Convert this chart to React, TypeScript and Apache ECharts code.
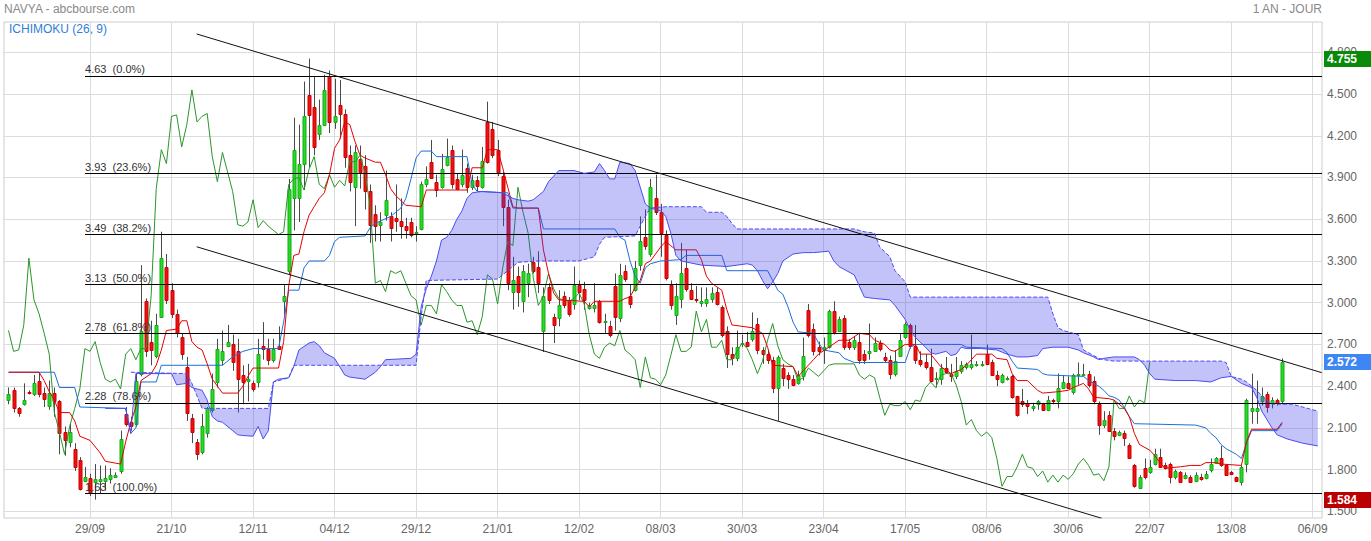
import React, { useEffect, useRef } from "react";
import * as echarts from "echarts";

// ---------------- data ----------------
// trading-day index 0..250 ; labels every 16 trading days
const dateLabels = ["29/09", "21/10", "12/11", "04/12", "29/12", "21/01", "12/02", "08/03", "30/03", "23/04", "17/05", "08/06", "30/06", "22/07", "13/08", "06/09"];
const labelStep = 16;

const openP = [
  2.30, 2.37, 2.24, 2.27, 2.36, 2.34, 2.44, 2.35, 2.26, 2.35,
  2.29, 2.07, 2.00, 1.95, 1.87, 1.72, 1.74, 1.71, 1.72, 1.72,
  1.73, 1.75, 1.79, 2.20, 2.14, 2.13, 2.49, 3.01, 2.72, 2.62,
  2.90, 3.26, 3.09, 2.92, 2.75, 2.54, 2.17, 2.00, 1.93, 2.06,
  2.23, 2.43, 2.59, 2.69, 2.70, 2.65, 2.48, 2.44, 2.42, 2.43,
  2.69, 2.67, 2.59, 2.69, 3.01, 3.23, 3.75, 3.75, 4.00, 4.49,
  4.41, 4.21, 4.28, 4.63, 4.30, 4.42, 4.36, 4.06, 3.83, 4.03,
  3.98, 3.80, 3.64, 3.56, 3.63, 3.62, 3.61, 3.59, 3.55, 3.58,
  3.50, 3.53, 3.85, 4.01, 3.87, 3.83, 3.99, 4.10, 3.89, 3.85,
  3.97, 3.83, 3.88, 3.83, 4.30, 4.25, 4.10, 3.91, 3.69, 3.08,
  3.19, 3.01, 3.14, 3.29, 3.26, 2.80, 3.11, 2.90, 2.89, 3.05,
  3.02, 2.99, 3.13, 3.10, 2.96, 2.96, 3.01, 2.86, 2.83, 3.12,
  2.89, 3.23, 3.05, 3.09, 3.27, 3.47, 3.35, 3.75, 3.65, 3.49,
  3.13, 2.91, 3.03, 3.25, 3.09, 3.03, 3.00, 3.00, 3.03, 3.08,
  2.97, 2.80, 2.63, 2.60, 2.70, 2.72, 2.74, 2.85, 2.66, 2.63,
  2.59, 2.39, 2.53, 2.48, 2.45, 2.42, 2.47, 2.95, 2.81, 2.68,
  2.66, 2.68, 2.94, 2.80, 2.89, 2.72, 2.68, 2.72, 2.63, 2.64,
  2.65, 2.71, 2.61, 2.59, 2.49, 2.62, 2.75, 2.84, 2.69, 2.59,
  2.57, 2.54, 2.45, 2.45, 2.53, 2.49, 2.47, 2.51, 2.54, 2.54,
  2.555, 2.55, 2.63, 2.57, 2.48, 2.43, 2.45, 2.47, 2.33, 2.29,
  2.28, 2.24, 2.27, 2.27, 2.23, 2.30, 2.29, 2.39, 2.42, 2.36,
  2.48, 2.48, 2.49, 2.44, 2.27, 2.12, 2.19, 2.08, 2.05, 2.06,
  1.98, 1.83, 1.67, 1.81, 1.78, 1.84, 1.89, 1.83, 1.84, 1.75,
  1.78, 1.74, 1.75, 1.72, 1.75, 1.74, 1.80, 1.85, 1.88, 1.83,
  1.78, 1.75, 1.71, 1.84, 2.22, 2.22, 2.29, 2.34, 2.28, 2.30, 2.29,
];
const closeP = [
  2.34, 2.24, 2.21, 2.30, 2.35, 2.42, 2.34, 2.31, 2.35, 2.29,
  2.06, 2.01, 2.07, 1.82, 1.66, 1.75, 1.63, 1.73, 1.73, 1.74,
  1.76, 1.76, 2.02, 2.13, 2.11, 2.44, 2.80, 2.65, 2.66, 2.84,
  3.32, 3.02, 2.92, 2.78, 2.63, 2.21, 2.07, 1.91, 2.11, 2.24,
  2.38, 2.67, 2.65, 2.72, 2.57, 2.45, 2.43, 2.45, 2.38, 2.63,
  2.67, 2.59, 2.67, 2.67, 3.05, 3.82, 4.10, 4.00, 4.34, 4.35,
  4.12, 4.28, 4.53, 4.30, 4.34, 4.36, 4.05, 3.87, 4.08, 3.94,
  3.80, 3.56, 3.55, 3.58, 3.74, 3.54, 3.59, 3.55, 3.52, 3.49,
  3.51, 3.85, 3.89, 3.90, 3.81, 3.96, 4.05, 3.85, 3.82, 3.92,
  3.83, 3.88, 3.84, 4.02, 4.01, 4.06, 3.93, 3.69, 3.14, 3.16,
  3.08, 3.23, 3.21, 3.23, 3.14, 3.05, 3.02, 2.84, 2.98, 2.98,
  2.92, 3.13, 3.08, 3.02, 2.98, 2.98, 2.86, 2.87, 2.77, 2.90,
  3.20, 3.17, 2.99, 3.25, 3.44, 3.41, 3.83, 3.65, 3.50, 3.18,
  2.98, 3.05, 3.21, 3.10, 3.03, 3.02, 3.01, 3.03, 3.07, 2.99,
  2.77, 2.63, 2.60, 2.68, 2.71, 2.69, 2.80, 2.66, 2.63, 2.59,
  2.39, 2.61, 2.46, 2.45, 2.41, 2.48, 2.62, 2.77, 2.65, 2.65,
  2.68, 2.94, 2.79, 2.88, 2.68, 2.68, 2.73, 2.59, 2.59, 2.65,
  2.71, 2.67, 2.59, 2.49, 2.58, 2.73, 2.85, 2.69, 2.59, 2.56,
  2.54, 2.44, 2.46, 2.53, 2.50, 2.47, 2.51, 2.55, 2.56, 2.56,
  2.56, 2.56, 2.56, 2.48, 2.45, 2.48, 2.46, 2.32, 2.19, 2.27,
  2.26, 2.26, 2.29, 2.23, 2.30, 2.29, 2.39, 2.43, 2.39, 2.48,
  2.49, 2.49, 2.41, 2.29, 2.12, 2.16, 2.08, 2.04, 2.07, 2.03,
  1.88, 1.68, 1.75, 1.75, 1.82, 1.91, 1.82, 1.81, 1.75, 1.79,
  1.71, 1.76, 1.71, 1.76, 1.73, 1.77, 1.84, 1.88, 1.83, 1.76,
  1.77, 1.72, 1.82, 2.30, 2.24, 2.24, 2.33, 2.25, 2.30, 2.28, 2.572,
];
const lowP = [
  2.27, 2.21, 2.18, 2.26, 2.34, 2.33, 2.32, 2.25, 2.23, 2.18,
  1.91, 1.90, 1.96, 1.79, 1.65, 1.71, 1.61, 1.584, 1.63, 1.65,
  1.70, 1.745, 1.77, 2.11, 2.08, 2.11, 2.47, 2.61, 2.55, 2.60,
  2.89, 2.99, 2.89, 2.75, 2.59, 2.15, 1.99, 1.87, 1.91, 2.03,
  2.21, 2.39, 2.55, 2.68, 2.51, 2.21, 2.27, 2.29, 2.36, 2.39,
  2.59, 2.55, 2.57, 2.66, 2.91, 3.20, 3.52, 3.58, 3.81, 3.97,
  4.06, 4.17, 4.27, 4.22, 4.25, 4.18, 3.97, 3.80, 3.55, 3.82,
  3.67, 3.43, 3.44, 3.44, 3.59, 3.44, 3.51, 3.46, 3.46, 3.47,
  3.44, 3.52, 3.83, 3.89, 3.76, 3.82, 3.98, 3.82, 3.81, 3.83,
  3.79, 3.81, 3.80, 3.82, 4.00, 4.04, 3.91, 3.55, 3.09, 2.95,
  2.97, 2.93, 3.04, 3.21, 3.07, 2.645, 2.99, 2.71, 2.83, 2.96,
  2.90, 2.95, 3.02, 2.95, 2.95, 2.93, 2.85, 2.78, 2.75, 2.80,
  2.86, 3.15, 2.96, 3.08, 3.23, 3.38, 3.33, 3.63, 3.33, 3.16,
  2.95, 2.84, 2.96, 3.08, 3.02, 3.00, 2.97, 2.97, 3.00, 2.98,
  2.75, 2.53, 2.55, 2.58, 2.68, 2.68, 2.72, 2.63, 2.56, 2.56,
  2.35, 2.15, 2.40, 2.38, 2.40, 2.41, 2.44, 2.75, 2.62, 2.62,
  2.56, 2.67, 2.77, 2.79, 2.66, 2.66, 2.66, 2.56, 2.56, 2.59,
  2.65, 2.65, 2.57, 2.45, 2.47, 2.61, 2.74, 2.67, 2.56, 2.54,
  2.52, 2.43, 2.39, 2.41, 2.49, 2.43, 2.45, 2.49, 2.52, 2.52,
  2.54, 2.54, 2.55, 2.48, 2.40, 2.42, 2.44, 2.31, 2.18, 2.25,
  2.20, 2.22, 2.23, 2.23, 2.22, 2.27, 2.24, 2.38, 2.38, 2.34,
  2.41, 2.47, 2.39, 2.27, 2.05, 2.10, 2.07, 2.01, 2.04, 1.97,
  1.88, 1.67, 1.66, 1.73, 1.77, 1.83, 1.82, 1.80, 1.70, 1.73,
  1.71, 1.73, 1.71, 1.71, 1.72, 1.73, 1.78, 1.84, 1.82, 1.76,
  1.76, 1.71, 1.685, 1.78, 2.13, 2.13, 2.26, 2.21, 2.24, 2.26, 2.27,
];
const highP = [
  2.39, 2.39, 2.25, 2.42, 2.37, 2.48, 2.50, 2.39, 2.44, 2.39,
  2.30, 2.11, 2.13, 1.99, 1.89, 1.82, 1.77, 1.84, 1.83, 1.83,
  1.81, 1.78, 2.08, 2.25, 2.18, 2.49, 3.27, 3.03, 2.87, 2.92,
  3.51, 3.35, 3.14, 2.95, 2.78, 2.61, 2.20, 2.02, 2.20, 2.25,
  2.49, 2.74, 2.80, 2.84, 2.77, 2.74, 2.55, 2.56, 2.44, 2.74,
  2.86, 2.74, 2.74, 2.83, 3.13, 3.89, 4.33, 4.28, 4.59, 4.755,
  4.63, 4.46, 4.64, 4.67, 4.61, 4.60, 4.39, 4.13, 4.13, 4.13,
  4.06, 3.85, 3.70, 3.65, 3.95, 3.65, 3.85, 3.75, 3.61, 3.61,
  3.55, 3.87, 3.98, 4.17, 3.92, 4.07, 4.18, 4.13, 3.93, 4.10,
  4.00, 3.92, 3.91, 4.12, 4.445, 4.30, 4.17, 3.94, 3.74, 3.33,
  3.26, 3.27, 3.28, 3.33, 3.37, 3.11, 3.14, 2.92, 3.09, 3.08,
  3.04, 3.26, 3.16, 3.15, 3.00, 3.14, 3.02, 2.92, 2.87, 3.21,
  3.28, 3.27, 3.13, 3.30, 3.62, 3.67, 3.89, 3.92, 3.71, 3.52,
  3.16, 3.14, 3.43, 3.38, 3.14, 3.12, 3.11, 3.11, 3.11, 3.11,
  2.98, 2.83, 2.68, 2.80, 2.77, 2.79, 2.93, 2.89, 2.68, 2.66,
  2.61, 2.62, 2.56, 2.50, 2.48, 2.51, 2.75, 2.99, 2.85, 2.72,
  2.75, 2.95, 3.01, 2.90, 2.91, 2.74, 2.76, 2.78, 2.66, 2.85,
  2.75, 2.73, 2.64, 2.62, 2.66, 2.78, 2.86, 2.85, 2.84, 2.65,
  2.63, 2.67, 2.50, 2.56, 2.61, 2.56, 2.61, 2.58, 2.57, 2.77,
  2.58, 2.58, 2.70, 2.59, 2.51, 2.49, 2.47, 2.48, 2.33, 2.38,
  2.30, 2.28, 2.30, 2.28, 2.33, 2.31, 2.49, 2.48, 2.47, 2.49,
  2.57, 2.56, 2.51, 2.47, 2.29, 2.22, 2.22, 2.10, 2.08, 2.08,
  1.99, 1.84, 1.76, 1.88, 1.87, 1.95, 1.95, 1.85, 1.85, 1.80,
  1.79, 1.78, 1.76, 1.78, 1.77, 1.79, 1.88, 1.89, 1.97, 1.84,
  1.79, 1.75, 1.83, 2.31, 2.49, 2.44, 2.39, 2.36, 2.32, 2.31, 2.60,
];

// Ichimoku lines, [trading-day index, value] breakpoints
const tenkan = [
  [0, 2.50], [6, 2.50], [7, 2.44], [8, 2.36], [9, 2.30], [10, 2.21], [12, 2.21], [13, 2.15], [14, 2.04], [16, 2.01], [18, 1.92], [19, 1.86], [22, 1.84], [23, 2.00], [24, 2.14], [25, 2.25], [26, 2.44], [28, 2.49], [29, 2.55], [30, 2.66], [31, 2.80], [33, 2.81], [34, 2.87], [35, 2.87], [36, 2.72], [37, 2.68], [38, 2.66], [39, 2.56], [40, 2.45], [42, 2.35], [45, 2.35], [46, 2.40], [47, 2.47], [48, 2.53], [53, 2.53], [54, 2.72], [55, 3.12], [56, 3.34], [57, 3.35], [58, 3.51], [59, 3.63], [60, 3.69], [61, 3.75], [62, 3.79], [63, 3.92], [64, 4.11], [65, 4.17], [66, 4.30], [67, 4.28], [68, 4.16], [69, 4.06], [70, 4.04], [72, 4.01], [73, 4.01], [74, 3.92], [75, 3.82], [76, 3.77], [78, 3.70], [81, 3.69], [82, 3.81], [90, 3.81], [91, 3.97], [93, 3.97], [94, 4.10], [96, 4.10], [97, 3.97], [98, 3.83], [99, 3.69], [100, 3.68], [104, 3.68], [105, 3.38], [106, 3.21], [107, 3.07], [108, 3.02], [113, 3.01], [114, 2.97], [115, 3.01], [120, 3.01], [121, 3.03], [122, 3.04], [123, 3.11], [124, 3.16], [125, 3.28], [126, 3.30], [128, 3.40], [129, 3.44], [130, 3.41], [131, 3.38], [135, 3.38], [136, 3.31], [137, 3.19], [138, 3.14], [140, 3.09], [141, 2.95], [142, 2.84], [146, 2.82], [148, 2.78], [149, 2.68], [150, 2.55], [154, 2.54], [155, 2.47], [156, 2.51], [157, 2.55], [158, 2.59], [159, 2.63], [161, 2.68], [163, 2.73], [165, 2.73], [167, 2.78], [169, 2.77], [170, 2.73], [172, 2.70], [173, 2.66], [174, 2.65], [176, 2.70], [178, 2.70], [179, 2.63], [181, 2.63], [183, 2.54], [185, 2.49], [187, 2.52], [188, 2.55], [190, 2.63], [193, 2.63], [194, 2.60], [196, 2.59], [197, 2.49], [198, 2.44], [200, 2.44], [202, 2.37], [203, 2.35], [206, 2.36], [208, 2.37], [209, 2.39], [211, 2.42], [212, 2.38], [213, 2.32], [216, 2.31], [217, 2.30], [218, 2.27], [219, 2.24], [220, 2.18], [221, 2.06], [222, 1.98], [224, 1.94], [225, 1.90], [226, 1.85], [227, 1.81], [230, 1.82], [232, 1.83], [234, 1.83], [235, 1.85], [237, 1.85], [238, 1.84], [242, 1.83], [243, 2.00], [244, 2.09], [249, 2.09], [250, 2.14],
];
const kijun = [
  [0, 2.50], [9, 2.50], [10, 2.39], [13, 2.39], [14, 2.25], [23, 2.24], [24, 2.06], [25, 2.10], [26, 2.43], [29, 2.43], [30, 2.55], [42, 2.55], [44, 2.61], [46, 2.65], [48, 2.67], [53, 2.67], [54, 2.86], [55, 3.09], [57, 3.09], [58, 3.25], [59, 3.30], [62, 3.30], [63, 3.34], [64, 3.44], [65, 3.47], [70, 3.48], [71, 3.54], [72, 3.57], [75, 3.62], [76, 3.65], [77, 3.68], [78, 3.75], [79, 3.89], [80, 4.04], [81, 4.09], [83, 4.09], [84, 4.05], [90, 4.05], [91, 3.85], [92, 3.80], [98, 3.79], [99, 3.68], [104, 3.68], [105, 3.53], [119, 3.53], [120, 3.47], [121, 3.45], [122, 3.30], [123, 3.19], [124, 3.14], [125, 3.25], [126, 3.28], [128, 3.30], [132, 3.31], [133, 3.34], [140, 3.34], [141, 3.23], [149, 3.23], [150, 3.16], [151, 3.09], [152, 3.06], [153, 2.97], [154, 2.86], [155, 2.79], [158, 2.78], [159, 2.71], [160, 2.66], [163, 2.64], [164, 2.60], [166, 2.57], [176, 2.57], [177, 2.68], [178, 2.70], [187, 2.70], [188, 2.68], [195, 2.67], [196, 2.64], [197, 2.58], [198, 2.53], [202, 2.52], [203, 2.49], [204, 2.48], [211, 2.47], [212, 2.44], [214, 2.40], [215, 2.37], [216, 2.33], [217, 2.32], [218, 2.30], [219, 2.25], [220, 2.18], [221, 2.13], [233, 2.12], [235, 2.10], [236, 2.06], [237, 2.03], [238, 1.98], [239, 1.95], [241, 1.91], [242, 1.88], [243, 1.99], [244, 2.08], [249, 2.08], [250, 2.13],
];
const senkouA = [
  [19, 2.24], [23, 2.24], [24, 2.06], [25, 2.49], [32, 2.49], [33, 2.41], [35, 2.42], [36, 2.39], [38, 2.37], [39, 2.30], [40, 2.18], [41, 2.15], [42, 2.14], [44, 2.08], [45, 2.05], [46, 2.045], [48, 2.04], [49, 2.11], [50, 2.02], [51, 2.08], [52, 2.43], [53, 2.45], [55, 2.46], [56, 2.54], [57, 2.66], [59, 2.71], [60, 2.72], [61, 2.69], [62, 2.64], [64, 2.60], [66, 2.48], [67, 2.465], [70, 2.45], [72, 2.50], [73, 2.54], [74, 2.59], [79, 2.60], [80, 2.63], [81, 2.97], [82, 3.10], [83, 3.19], [84, 3.30], [85, 3.45], [86, 3.47], [87, 3.52], [88, 3.60], [89, 3.66], [90, 3.75], [91, 3.79], [93, 3.80], [97, 3.79], [99, 3.75], [100, 3.74], [102, 3.73], [103, 3.74], [105, 3.80], [106, 3.87], [108, 3.95], [111, 3.95], [113, 3.93], [115, 3.94], [116, 4.00], [117, 3.95], [118, 3.89], [119, 3.89], [120, 4.01], [122, 4.00], [123, 3.95], [124, 3.83], [125, 3.71], [126, 3.68], [128, 3.66], [129, 3.62], [130, 3.50], [131, 3.34], [132, 3.30], [136, 3.27], [141, 3.26], [145, 3.28], [146, 3.27], [147, 3.23], [148, 3.16], [149, 3.10], [150, 3.15], [151, 3.21], [152, 3.30], [154, 3.35], [156, 3.36], [158, 3.36], [161, 3.37], [162, 3.30], [163, 3.26], [166, 3.20], [167, 3.12], [168, 3.04], [170, 3.03], [173, 3.02], [174, 2.98], [176, 2.88], [177, 2.80], [178, 2.75], [180, 2.68], [181, 2.64], [182, 2.63], [184, 2.65], [185, 2.62], [186, 2.63], [187, 2.68], [188, 2.67], [191, 2.67], [194, 2.66], [196, 2.63], [198, 2.61], [200, 2.61], [202, 2.62], [203, 2.67], [205, 2.68], [208, 2.68], [210, 2.66], [211, 2.64], [213, 2.61], [214, 2.59], [215, 2.60], [217, 2.61], [221, 2.61], [222, 2.59], [223, 2.55], [224, 2.49], [225, 2.45], [229, 2.44], [233, 2.44], [236, 2.43], [238, 2.46], [240, 2.47], [242, 2.42], [244, 2.39], [245, 2.32], [246, 2.22], [247, 2.16], [248, 2.10], [249, 2.05], [251, 2.02], [254, 1.99], [257, 1.97],
];
const senkouB = [
  [24, 2.50], [35, 2.49], [36, 2.42], [37, 2.33], [38, 2.24], [51, 2.24], [52, 2.43], [55, 2.46], [56, 2.55], [80, 2.55], [81, 2.90], [82, 3.16], [96, 3.17], [98, 3.23], [100, 3.29], [104, 3.30], [112, 3.30], [115, 3.33], [116, 3.42], [117, 3.47], [123, 3.48], [124, 3.55], [125, 3.62], [126, 3.68], [129, 3.69], [136, 3.69], [137, 3.65], [140, 3.65], [141, 3.62], [142, 3.57], [143, 3.53], [166, 3.53], [168, 3.51], [170, 3.50], [171, 3.40], [173, 3.33], [174, 3.23], [176, 3.15], [177, 3.04], [204, 3.04], [205, 2.92], [206, 2.82], [207, 2.80], [208, 2.79], [210, 2.77], [211, 2.66], [213, 2.62], [214, 2.60], [215, 2.59], [217, 2.58], [238, 2.58], [239, 2.57], [240, 2.47], [242, 2.45], [243, 2.43], [245, 2.37], [246, 2.33], [247, 2.30], [248, 2.27], [252, 2.27], [254, 2.25], [257, 2.22],
];
const chikouShift = 26;

const fibLevels = [4.63, 3.93, 3.49, 3.13, 2.78, 2.28, 1.63];
const fibPercents = ["0.0%", "23.6%", "38.2%", "50.0%", "61.8%", "78.6%", "100.0%"];
const fibStartIndex = 15.02;

const channelUpper = [[36.94, 4.932], [257.77, 2.497]];
const channelLower = [[36.94, 3.402], [214.58, 1.45]];

const periodHigh = 4.755;
const periodLow = 1.584;
const lastPrice = 2.572;

// ---------------- layout ----------------
const X_MIN = -0.883;
const X_MAX = 257.82;
const Y_MIN = 1.452;
const Y_MAX = 5.018;
const FONT = "Liberation Sans, Arial, sans-serif";

export default function App() {
  const ref = useRef<HTMLDivElement>(null);

  useEffect(() => {
    if (!ref.current) return;
    const chart = echarts.init(ref.current, undefined, { renderer: "svg" });

    const candleData = openP.map((o, i) => [i, o, closeP[i], lowP[i], highP[i]]);
    const chikouData = closeP.slice(chikouShift).map((c, k) => [k, c]);
    const cloudA = senkouA.filter((p) => p[0] >= 25);
    const splitColors = [
      "rgba(0,0,0,0)",
      ...dateLabels.map(() => "#dcdcdc"),
    ];

    const lineBase = {
      type: "line",
      xAxisIndex: 0,
      yAxisIndex: 0,
      symbol: "none",
      showSymbol: false,
      silent: true,
      animation: false,
    };

    const option: any = {
      animation: false,
      textStyle: { fontFamily: FONT },
      grid: [
        { left: 4, right: 49, top: 22, bottom: 23, show: true, borderColor: "#cccccc", borderWidth: 1, backgroundColor: "rgba(0,0,0,0)" },
        { left: 4, right: 49, top: 52.3, bottom: 29.7 },
        { left: 8.5, right: 58.3, top: 22, bottom: 23 },
      ],
      xAxis: [
        { type: "value", gridIndex: 0, min: X_MIN, max: X_MAX, show: false },
        { type: "value", gridIndex: 1, min: 0, max: 1, show: false },
        {
          type: "value",
          gridIndex: 2,
          min: 0,
          max: labelStep * dateLabels.length,
          interval: labelStep,
          axisLine: { show: false },
          axisTick: { show: false },
          splitLine: { show: true, lineStyle: { color: splitColors, width: 1 } },
          axisLabel: {
            margin: 5,
            color: "#666",
            fontSize: 12,
            fontFamily: FONT,
            showMaxLabel: true,
            formatter: (v: number) => {
              const k = Math.round(v / labelStep) - 1;
              return k >= 0 && k < dateLabels.length ? dateLabels[k] : "";
            },
          },
        },
      ],
      yAxis: [
        { type: "value", gridIndex: 0, min: Y_MIN, max: Y_MAX, show: false },
        {
          type: "value",
          gridIndex: 1,
          min: 1.5,
          max: 4.8,
          interval: 0.3,
          position: "right",
          axisLine: { show: false },
          axisTick: { show: false },
          splitLine: { show: true, lineStyle: { color: "#dcdcdc", width: 1 } },
          axisLabel: {
            margin: 5,
            color: "#666",
            fontSize: 12,
            fontFamily: FONT,
            formatter: (v: number) => v.toFixed(3),
          },
        },
        { type: "value", gridIndex: 2, min: 0, max: 1, show: false },
      ],
      series: [
        {
          type: "custom",
          name: "candles",
          xAxisIndex: 0,
          yAxisIndex: 0,
          z: 2,
          silent: true,
          data: candleData,
          encode: { x: 0, y: [1, 2, 3, 4] },
          renderItem: (params: any, api: any) => {
            const i = api.value(0);
            const o = api.value(1);
            const c = api.value(2);
            const l = api.value(3);
            const h = api.value(4);
            const pH = api.coord([i, h]);
            const pL = api.coord([i, l]);
            const pO = api.coord([i, o]);
            const pC = api.coord([i, c]);
            const cx = Math.round(pH[0]) + 0.5;
            const up = c >= o;
            const y1 = Math.round(Math.min(pO[1], pC[1])) + 0.5;
            const y2 = Math.round(Math.max(pO[1], pC[1])) + 0.5;
            const bh = Math.max(y2 - y1, 1);
            return {
              type: "group",
              children: [
                {
                  type: "line",
                  shape: { x1: cx, y1: pH[1], x2: cx, y2: pL[1] },
                  style: { stroke: "#4a4a4a", lineWidth: 1 },
                },
                {
                  type: "rect",
                  shape: { x: cx - 1.5, y: y1, width: 3, height: bh },
                  style: {
                    fill: up ? "#22dd22" : "#ee1111",
                    stroke: up ? "#18a818" : "#cc0000",
                    lineWidth: 1,
                  },
                },
              ],
            };
          },
        },
        { ...lineBase, name: "chikou", z: 3, data: chikouData, lineStyle: { color: "#2b952b", width: 1 } },
        { ...lineBase, name: "kijun", z: 3, data: kijun, lineStyle: { color: "#1d6fd6", width: 1 } },
        { ...lineBase, name: "tenkan", z: 3, data: tenkan, lineStyle: { color: "#e50000", width: 1 } },
        {
          type: "custom",
          name: "cloud",
          xAxisIndex: 0,
          yAxisIndex: 0,
          z: 4,
          silent: true,
          data: [[100, 3]],
          encode: { x: 0, y: 1 },
          renderItem: (params: any, api: any) => {
            const pts = cloudA
              .map((p) => api.coord(p))
              .concat(senkouB.slice().reverse().map((p) => api.coord(p)));
            return {
              type: "polygon",
              shape: { points: pts },
              style: { fill: "rgba(60,60,238,0.31)" },
            };
          },
        },
        { ...lineBase, name: "senkouA", z: 5, data: senkouA, lineStyle: { color: "#4c4cf0", width: 1 } },
        { ...lineBase, name: "senkouB", z: 5, data: senkouB, lineStyle: { color: "#4c4cf0", width: 1, type: [4, 2] } },
        {
          ...lineBase,
          name: "channelUpper",
          z: 6,
          data: channelUpper,
          lineStyle: { color: "#111", width: 1 },
          markLine: {
            silent: true,
            symbol: ["none", "none"],
            animation: false,
            lineStyle: { color: "#000", width: 1, type: "solid" },
            label: {
              show: true,
              position: "insideStartTop",
              distance: [0, 1],
              color: "#333",
              fontSize: 11,
              fontFamily: FONT,
            },
            emphasis: { disabled: true },
            data: fibLevels.map((v, k) => [
              { coord: [fibStartIndex, v], label: { formatter: `${v.toFixed(2)}  (${fibPercents[k]})` } },
              { coord: [X_MAX, v] },
            ]),
          },
        },
        { ...lineBase, name: "channelLower", z: 6, data: channelLower, lineStyle: { color: "#111", width: 1 } },
      ],
    };

    chart.setOption(option);

    const badge = (v: number, color: string) => {
      const y = Math.round(chart.convertToPixel({ gridIndex: 0 } as any, [X_MAX, v])[1]);
      return [
        { type: "rect", z: 100, shape: { x: 1324, y: y - 8, width: 47, height: 16 }, style: { fill: color } },
        {
          type: "text",
          z: 101,
          x: 1327,
          y: y,
          style: { text: v.toFixed(3), fill: "#fff", font: `bold 12px ${FONT}`, verticalAlign: "middle", align: "left" },
        },
      ];
    };

    chart.setOption({
      graphic: [
        { type: "text", x: 4, y: 9, style: { text: "NAVYA - abcbourse.com", fill: "#8a8a8a", font: `12px ${FONT}`, verticalAlign: "middle" } },
        { type: "text", x: 1322, y: 9, style: { text: "1 AN - JOUR", fill: "#8a8a8a", font: `12px ${FONT}`, align: "right", verticalAlign: "middle" } },
        { type: "text", x: 9, y: 29, z: 50, style: { text: "ICHIMOKU (26, 9)", fill: "#2f7fd8", font: `12px ${FONT}`, verticalAlign: "middle" } },
        ...badge(periodHigh, "#0a8a0a"),
        ...badge(lastPrice, "#3f86f5"),
        ...badge(periodLow, "#bb0000"),
      ],
    });

    return () => chart.dispose();
  }, []);

  return (
    <div
      ref={ref}
      style={{ position: "fixed", left: 0, top: 0, width: 1371, height: 541, background: "#fff" }}
    />
  );
}
